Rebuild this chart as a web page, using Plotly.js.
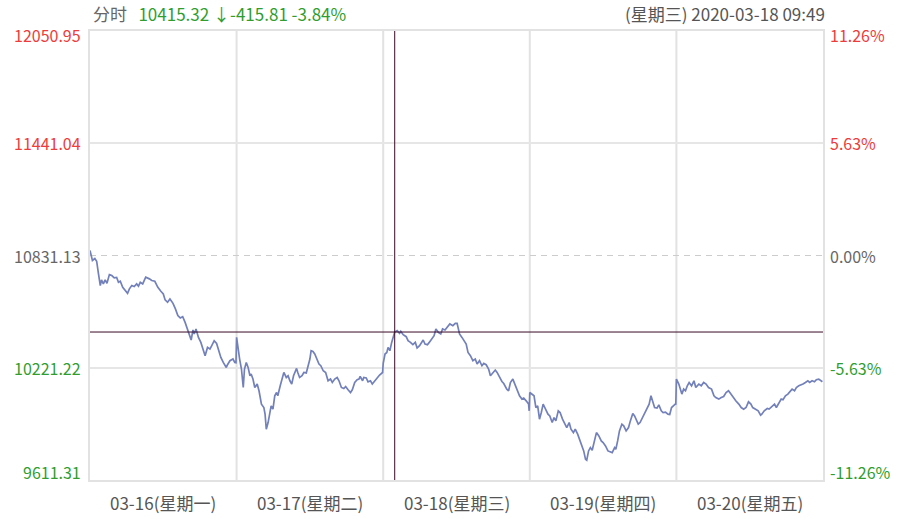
<!DOCTYPE html>
<html><head><meta charset="utf-8">
<script src="https://cdn.plot.ly/plotly-3.0.1.min.js"></script>
<style>html,body{margin:0;padding:0;background:#fff}#chart{width:902px;height:519px}</style>
</head><body><div id="chart"></div>
<script>
// ---- data ----
const dayLabels = ['03-16(星期一)', '03-17(星期二)', '03-18(星期三)', '03-19(星期四)', '03-20(星期五)'];
const minutesPerDay = 242;
const priceTicks = [12050.95, 11441.04, 10831.13, 10221.22, 9611.31];
const pctTicks = ['11.26%', '5.63%', '0.00%', '-5.63%', '-11.26%'];
const prevClose = 10831.13;
const cursorIdx = 503;
const cursorPrice = 10415.32;
const headerLeft = '分时';
const headerQuote = '10415.32 ↓-415.81 -3.84%';
const headerRight = '(星期三) 2020-03-18 09:49';

const minuteIdx = [
  0,4,8,11,14,17,19,22,25,28,32,36,40,44,47,50,54,58,62,65,69,73,77,80,83,87,92,98,102,107,112,117,121,124,128,132,137,141,145,149,153,157,161,164,167,170,172,175,179,183,187,190,194,198,201,205,209,212,216,220,225,227,231,236,239,241,
  242,247,250,253,255,258,261,264,266,269,272,276,279,283,287,289,291,294,297,299,302,305,308,310,314,317,320,324,327,330,333,336,341,343,346,350,353,357,360,363,365,368,371,374,378,381,385,389,393,397,400,404,408,411,415,419,422,426,430,433,437,441,444,446,450,452,456,459,463,466,470,474,478,483,
  484,487,490,492,495,498,501,503,507,511,513,517,522,525,529,533,537,540,544,548,550,553,557,560,564,568,571,575,579,582,586,590,594,599,603,606,610,614,617,621,624,628,632,636,639,643,647,650,654,658,661,665,669,672,676,680,683,688,691,694,698,702,705,709,713,716,720,724,725,
  726,733,736,739,742,745,748,752,756,759,763,766,769,773,776,780,784,787,791,794,798,801,805,809,812,815,818,820,823,826,829,832,836,840,844,847,851,855,858,862,866,868,871,874,878,881,885,889,892,896,899,901,905,908,912,916,919,923,926,929,932,936,939,943,946,950,954,957,960,963,966,967,
  968,972,974,977,980,983,986,989,993,997,1000,1005,1009,1013,1017,1021,1026,1030,1033,1038,1042,1046,1050,1054,1058,1063,1066,1071,1075,1079,1083,1087,1091,1094,1098,1103,1107,1109,1113,1118,1121,1126,1130,1133,1137,1141,1144,1148,1152,1155,1159,1163,1166,1170,1174,1177,1181,1185,1188,1192,1196,1199,1203,1206,1209
];
const price = [
  10858.4,10803.9,10814.8,10800.1,10731.5,10667.8,10698.8,10677.0,10698.8,10680.3,10727.7,10722.2,10709.7,10712.0,10685.7,10691.2,10658.5,10644.4,10625.8,10649.8,10667.8,10662.3,10677.0,10665.0,10685.7,10677.0,10713.0,10704.2,10695.0,10691.2,10658.5,10636.7,10622.6,10589.9,10576.8,10595.3,10571.4,10540.9,10504.4,10491.9,10499.0,10467.9,10426.5,10395.5,10372.1,10426.5,10404.7,10432.0,10386.2,10359.0,10323.1,10286.6,10331.8,10323.1,10341.0,10368.3,10353.6,10323.1,10277.3,10250.1,10222.9,10237.6,10259.3,10268.6,10250.1,10248.5,
  10386.2,10268.6,10214.2,10114.0,10214.2,10250.1,10222.9,10177.7,10186.9,10159.7,10114.0,10132.5,10096.0,10023.6,10005.0,9969.1,9887.4,9923.4,9987.1,10014.3,9996.3,10068.8,10086.7,10068.8,10123.2,10159.7,10195.6,10168.4,10177.7,10150.4,10132.5,10177.7,10217.4,10195.6,10168.4,10177.7,10195.6,10193.0,10232.1,10268.6,10313.8,10310.0,10295.8,10268.6,10241.4,10232.1,10204.9,10195.6,10150.4,10159.7,10141.2,10159.7,10168.4,10150.4,10114.0,10108.5,10119.4,10101.4,10086.7,10101.4,10141.2,10155.9,10159.7,10173.9,10150.4,10168.4,10166.0,10145.0,10150.4,10132.5,10150.4,10168.4,10181.5,10195.6,
  10245.0,10295.8,10304.5,10331.8,10313.8,10359.0,10386.2,10415.32,10422.7,10408.0,10418.9,10400.9,10390.0,10368.3,10359.0,10346.5,10359.0,10328.5,10341.0,10359.0,10372.1,10350.3,10346.5,10359.0,10377.5,10395.5,10432.0,10413.5,10404.7,10432.0,10426.5,10440.7,10459.2,10449.9,10462.5,10462.5,10404.7,10386.2,10368.3,10350.3,10304.5,10286.6,10259.3,10268.6,10241.4,10259.3,10232.1,10244.7,10237.6,10214.2,10177.7,10195.6,10208.7,10195.6,10168.4,10146.6,10135.7,10105.2,10096.0,10141.2,10159.7,10123.2,10105.2,10068.8,10050.8,10056.2,10041.5,10023.6,9987.1,
  10086.7,10068.8,10005.0,10014.3,9941.9,9977.8,10023.6,9996.3,9969.1,9959.8,9923.4,9950.6,9932.6,9987.1,9977.8,9941.9,9917.9,9896.1,9923.4,9887.4,9868.9,9887.4,9860.2,9823.7,9805.7,9769.2,9723.7,9718.7,9769.2,9787.2,9773.1,9814.4,9868.9,9850.9,9823.7,9814.4,9796.5,9769.2,9765.4,9760.0,9787.2,9778.5,9823.7,9878.2,9914.6,9905.4,9878.2,9896.1,9932.6,9972.4,9959.8,9941.9,9914.6,9923.4,9950.6,9977.8,9996.3,10023.6,10068.8,10041.5,10005.0,10002.0,10019.7,9987.1,9977.8,9980.0,9969.1,9967.0,10005.0,10014.3,10023.6,10020.0,
  10159.7,10132.5,10114.0,10078.0,10105.2,10096.0,10123.2,10141.2,10123.2,10150.4,10114.0,10132.5,10123.2,10141.2,10132.5,10114.0,10105.2,10068.8,10059.5,10050.8,10059.5,10064.9,10086.7,10096.0,10078.0,10050.8,10041.5,10023.6,10005.0,9996.3,10005.0,10036.1,10023.6,10005.0,9996.3,9987.1,9963.6,9969.1,9987.1,9999.6,9996.3,10014.3,10023.6,10005.0,10032.3,10050.8,10047.0,10068.8,10078.0,10090.5,10105.2,10096.0,10114.0,10123.2,10127.0,10132.5,10141.2,10150.4,10141.2,10150.4,10145.0,10155.9,10159.7,10150.4,10145.0
];

// ---- styles ----
const RED = '#ee3b3b', GREEN = '#2f9e2f', GRAY = '#666666';
const FONT = '"Noto Sans CJK SC", "Noto Sans", sans-serif';
const tickColor = v => v > prevClose + 0.01 ? RED : (v < prevClose - 0.01 ? GREEN : GRAY);
const yShift = i => i === 0 ? -4 : (i === priceTicks.length - 1 ? 8 : 0);

const nDays = dayLabels.length;
const total = nDays * minutesPerDay;
const shapes = [];
for (let d = 1; d < nDays; d++) {
  shapes.push({type: 'line', xref: 'x', yref: 'paper', x0: d * minutesPerDay, x1: d * minutesPerDay, y0: 0, y1: 1,
    line: {color: '#e2e2e2', width: 2}, layer: 'below'});
}
shapes.push({type: 'line', xref: 'paper', yref: 'y', x0: 0, x1: 1, y0: prevClose, y1: prevClose,
  line: {color: '#cccccc', width: 1.2, dash: '6px,5px'}, layer: 'below'});
shapes.push({type: 'line', xref: 'x', yref: 'paper', x0: cursorIdx, x1: cursorIdx, y0: 0, y1: 1,
  line: {color: '#3a0a26', width: 1}});
shapes.push({type: 'line', xref: 'paper', yref: 'y', x0: 0, x1: 1, y0: cursorPrice, y1: cursorPrice,
  line: {color: '#3a0a26', width: 1}});

const annotations = [];
priceTicks.forEach((v, i) => {
  const c = tickColor(v);
  annotations.push({xref: 'paper', yref: 'y', x: 0, y: v, xanchor: 'right', yanchor: 'middle', xshift: -7, yshift: yShift(i),
    text: v.toFixed(2), showarrow: false, font: {family: FONT, size: 16, color: c}});
  annotations.push({xref: 'paper', yref: 'y', x: 1, y: v, xanchor: 'left', yanchor: 'middle', xshift: 5, yshift: yShift(i),
    text: pctTicks[i], showarrow: false, font: {family: FONT, size: 16, color: c}});
});
dayLabels.forEach((t, d) => {
  annotations.push({xref: 'x', yref: 'paper', x: d * minutesPerDay + minutesPerDay / 2, y: 0, xanchor: 'center', yanchor: 'top', yshift: -8,
    text: t, showarrow: false, font: {family: FONT, size: 17, color: '#555555'}});
});
annotations.push({xref: 'paper', yref: 'paper', x: 0, y: 1, xanchor: 'left', yanchor: 'bottom', xshift: 1, yshift: 3,
  text: '<span style="color:#666666">' + headerLeft + '</span>   <span style="color:' + GREEN + '">' + headerQuote + '</span>',
  showarrow: false, font: {family: FONT, size: 17}});
annotations.push({xref: 'paper', yref: 'paper', x: 1, y: 1, xanchor: 'right', yanchor: 'bottom', xshift: 4, yshift: 3,
  text: headerRight, showarrow: false, font: {family: FONT, size: 17, color: '#555555'}});

const trace = {
  x: minuteIdx, y: price, type: 'scatter', mode: 'lines',
  line: {color: '#7381bb', width: 1.7}, hoverinfo: 'skip'
};

const layout = {
  width: 902, height: 519,
  margin: {l: 90, r: 79, t: 31, b: 39},
  paper_bgcolor: '#ffffff', plot_bgcolor: '#ffffff',
  showlegend: false,
  xaxis: {range: [0, total], showgrid: false, zeroline: false, showticklabels: false, ticks: '',
    showline: true, mirror: true, linecolor: '#e2e2e2', linewidth: 2, fixedrange: true},
  yaxis: {range: [priceTicks[priceTicks.length - 1], priceTicks[0]], tickvals: [priceTicks[1], priceTicks[3]],
    showticklabels: false, ticks: '', gridcolor: '#e6e6e6', gridwidth: 2, zeroline: false,
    showline: true, mirror: true, linecolor: '#e2e2e2', linewidth: 2, fixedrange: true},
  shapes: shapes,
  annotations: annotations
};

Plotly.newPlot('chart', [trace], layout, {displayModeBar: false, staticPlot: true});
</script>
</body></html>
